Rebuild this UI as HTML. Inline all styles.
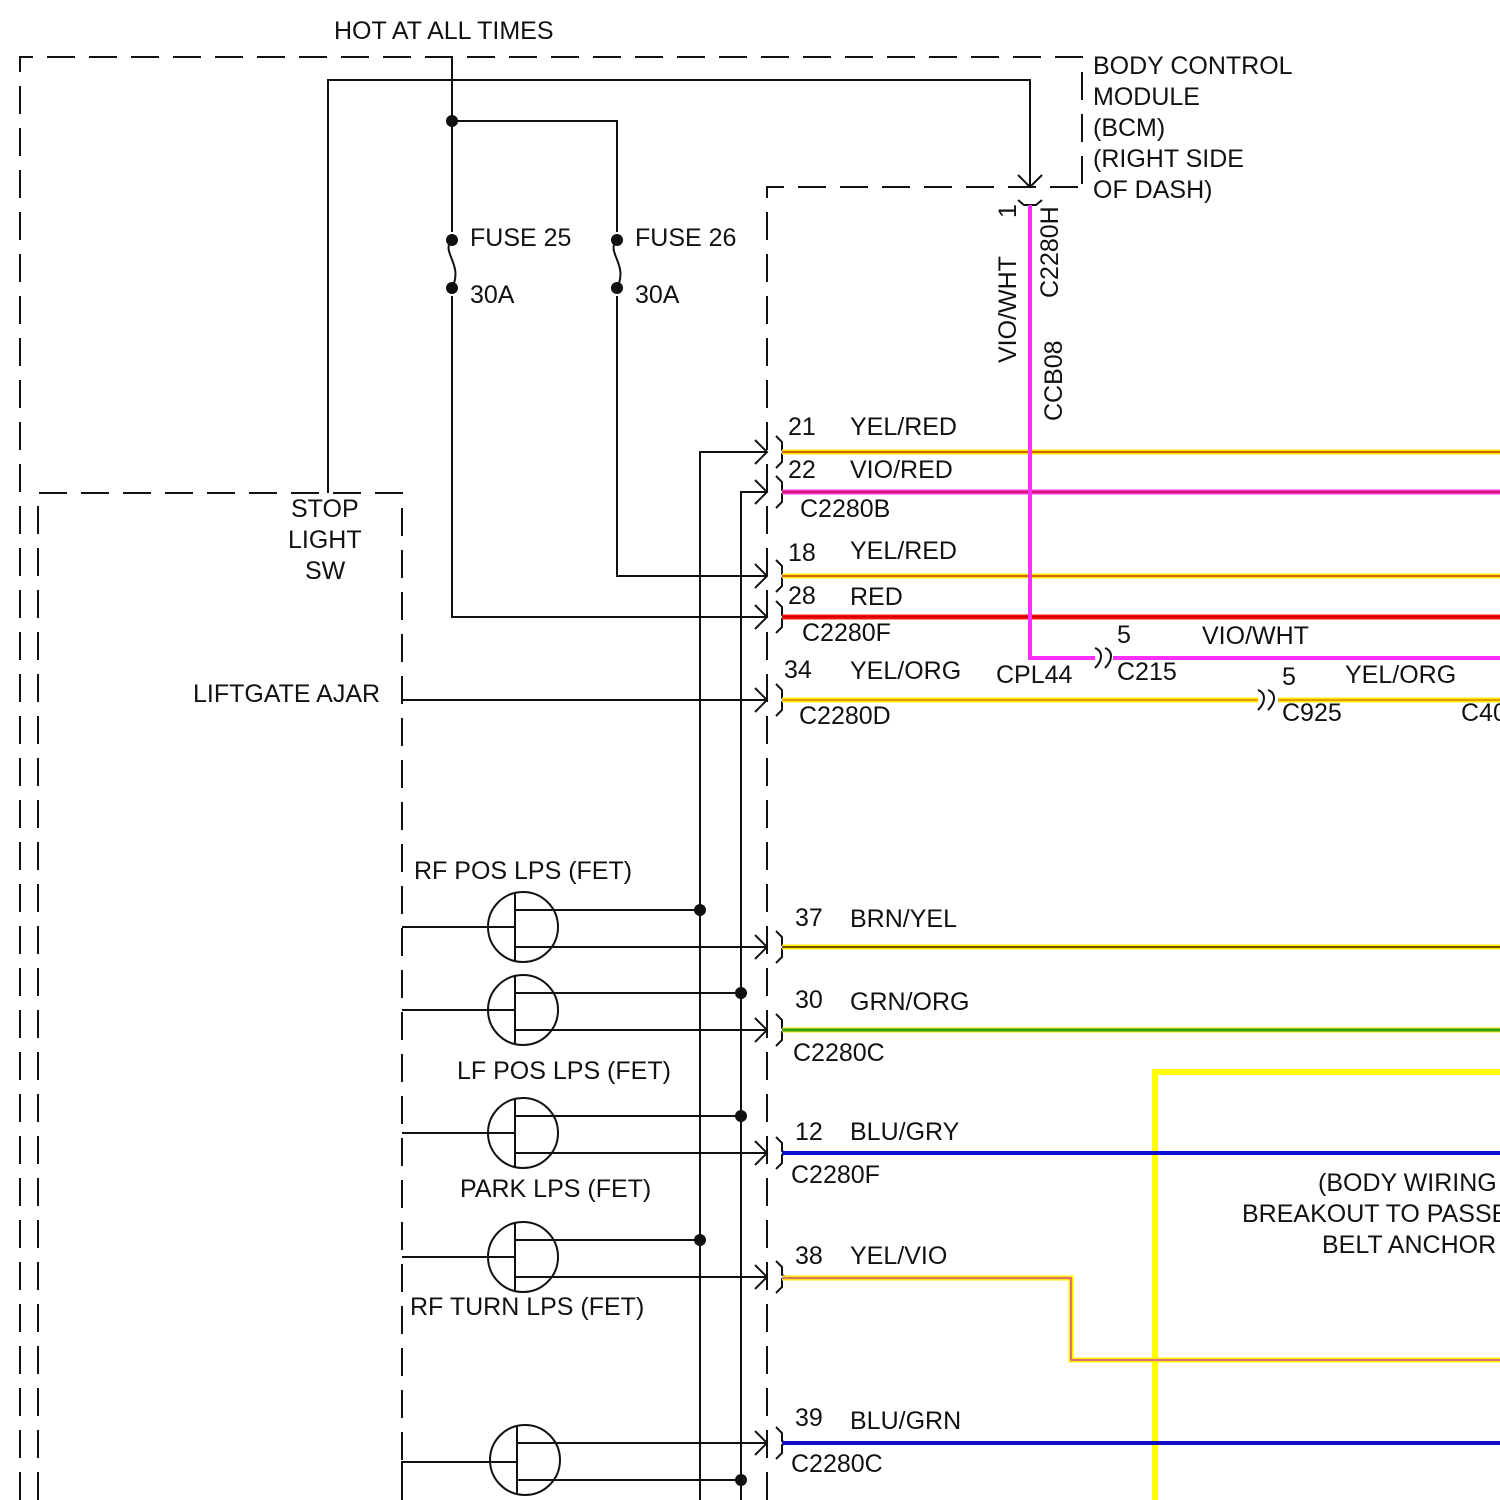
<!DOCTYPE html>
<html><head><style>body{margin:0;background:#fff}svg{display:block}text{font-family:"Liberation Sans",sans-serif;font-size:25px;fill:#111}</style></head><body>
<svg width="1500" height="1500" viewBox="0 0 1500 1500">
<g fill="none" stroke="#111" stroke-width="2" stroke-dasharray="28,14">
<path d="M20,1500V57H1082V187"/>
<path d="M38,1500V493H402V1500"/>
<path d="M767,1500V187H1082"/>
</g>
<g fill="none" stroke="#111" stroke-width="2">
<path d="M328,493V80H1030V187"/>
<path d="M1018,175L1030,187L1042,175"/>
<path d="M1018,200L1024,205H1036L1042,200"/>
<path d="M452,57V232M452,296V617H767"/>
<path d="M452,240c-12,12 12,24 0,48"/>
<path d="M452,121H617V232M617,296V576H767"/>
<path d="M617,240c-12,12 12,24 0,48"/>
<path d="M700,1500V452H767M741,1500V492H767"/>
<path d="M402,700H767"/>
</g>
<g fill="none" stroke="#111" stroke-width="2">
<path d="M755,440L767,452L755,464M755,480L767,492L755,504M755,564L767,576L755,588M755,605L767,617L755,629M755,688L767,700L755,712M755,935L767,947L755,959M755,1018L767,1030L755,1042M755,1141L767,1153L755,1165M755,1265L767,1277L755,1289M755,1431L767,1443L755,1455"/>
<path d="M776,436l6,6v8l4,2l-4,2v8l-6,6M776,476l6,6v8l4,2l-4,2v8l-6,6M776,560l6,6v8l4,2l-4,2v8l-6,6M776,601l6,6v8l4,2l-4,2v8l-6,6M776,684l6,6v8l4,2l-4,2v8l-6,6M776,931l6,6v8l4,2l-4,2v8l-6,6M776,1014l6,6v8l4,2l-4,2v8l-6,6M776,1137l6,6v8l4,2l-4,2v8l-6,6M776,1261l6,6v8l4,2l-4,2v8l-6,6M776,1427l6,6v8l4,2l-4,2v8l-6,6"/>
<path d="M1095,648c8,3 8,12 0,20M1105,648c8,3 8,12 0,20M1258,690c8,3 8,12 0,20M1268,690c8,3 8,12 0,20"/>
</g>
<g fill="none" stroke="#111" stroke-width="2">
<circle cx="523" cy="927" r="35"/><path d="M402,927H515M515,892V962M515,910H700M515,947H767"/>
<circle cx="523" cy="1010" r="35"/><path d="M402,1010H515M515,975V1045M515,993H741M515,1030H767"/>
<circle cx="523" cy="1133" r="35"/><path d="M402,1133H515M515,1098V1168M515,1116H741M515,1153H767"/>
<circle cx="523" cy="1257" r="35"/><path d="M402,1257H515M515,1222V1292M515,1240H700M515,1277H767"/>
<circle cx="525" cy="1460" r="35"/><path d="M402,1500V1462H517M517,1425V1495M517,1443H767M517,1480H741"/>
</g>
<g fill="#111">
<circle cx="452" cy="121" r="6"/><circle cx="452" cy="240" r="6"/><circle cx="452" cy="288" r="6"/>
<circle cx="617" cy="240" r="6"/><circle cx="617" cy="288" r="6"/>
<circle cx="700" cy="910" r="6"/><circle cx="741" cy="993" r="6"/><circle cx="741" cy="1116" r="6"/><circle cx="700" cy="1240" r="6"/><circle cx="741" cy="1480" r="6"/>
</g>
<g fill="none" stroke-width="5">
<path d="M1155,1500V1072H1500" stroke="#ffff00" stroke-width="6"/>
<path d="M782,452H1500" stroke="#ffee00"/><path d="M782,452H1500" stroke="#d03010" stroke-width="1.5"/>
<path d="M782,492H1500" stroke="#ff30d0"/><path d="M782,492H1500" stroke="#c01050" stroke-width="1.5"/>
<path d="M782,576H1500" stroke="#ffee00"/><path d="M782,576H1500" stroke="#d03010" stroke-width="1.5"/>
<path d="M782,617H1500" stroke="#ff1010"/><path d="M782,617H1500" stroke="#c00000" stroke-width="1.5"/>
<path d="M1030,205V658H1095M1113,658H1500" stroke="#ff30ff" stroke-width="4"/>
<path d="M782,700H1258M1278,700H1500" stroke="#ffee00"/><path d="M782,700H1258M1278,700H1500" stroke="#e08000" stroke-width="1.5"/>
<path d="M782,947H1500" stroke="#ffee00"/><path d="M782,947H1500" stroke="#705000" stroke-width="2"/>
<path d="M782,1030H1500" stroke="#ffee00"/><path d="M782,1030H1500" stroke="#30a020" stroke-width="3"/>
<path d="M782,1153H1500" stroke="#1010d0" stroke-width="4"/>
<path d="M782,1278H1071V1360H1500" stroke="#ffee00"/><path d="M782,1278H1071V1360H1500" stroke="#e040a0" stroke-width="1.5"/>
<path d="M782,1443H1500" stroke="#1010c0" stroke-width="4"/>
</g>
<text x="334" y="39">HOT AT ALL TIMES</text>
<text x="1093" y="74">BODY CONTROL</text><text x="1093" y="105">MODULE</text><text x="1093" y="136">(BCM)</text><text x="1093" y="167">(RIGHT SIDE</text><text x="1093" y="198">OF DASH)</text>
<text x="470" y="246">FUSE 25</text><text x="470" y="303">30A</text>
<text x="635" y="246">FUSE 26</text><text x="635" y="303">30A</text>
<text x="291" y="517">STOP</text><text x="288" y="548">LIGHT</text><text x="305" y="579">SW</text>
<text x="193" y="702">LIFTGATE AJAR</text>
<text transform="translate(1016,218) rotate(-90)">1</text>
<text transform="translate(1016,363) rotate(-90)">VIO/WHT</text>
<text transform="translate(1058,298) rotate(-90)">C2280H</text>
<text transform="translate(1062,421) rotate(-90)">CCB08</text>
<text x="788" y="435">21</text><text x="850" y="435">YEL/RED</text>
<text x="788" y="478">22</text><text x="850" y="478">VIO/RED</text>
<text x="800" y="517">C2280B</text>
<text x="788" y="561">18</text><text x="850" y="559">YEL/RED</text>
<text x="788" y="604">28</text><text x="850" y="605">RED</text>
<text x="802" y="641">C2280F</text>
<text x="1117" y="643">5</text><text x="1202" y="644">VIO/WHT</text>
<text x="1117" y="680">C215</text>
<text x="784" y="678">34</text><text x="850" y="679">YEL/ORG</text>
<text x="996" y="683">CPL44</text>
<text x="1282" y="685">5</text><text x="1345" y="683">YEL/ORG</text>
<text x="799" y="724">C2280D</text><text x="1282" y="721">C925</text><text x="1461" y="721">C40</text>
<text x="414" y="879">RF POS LPS (FET)</text>
<text x="795" y="926">37</text><text x="850" y="927">BRN/YEL</text>
<text x="795" y="1008">30</text><text x="850" y="1010">GRN/ORG</text>
<text x="793" y="1061">C2280C</text>
<text x="457" y="1079">LF POS LPS (FET)</text>
<text x="795" y="1140">12</text><text x="850" y="1140">BLU/GRY</text>
<text x="791" y="1183">C2280F</text>
<text x="1318" y="1191">(BODY WIRING</text><text x="1242" y="1222">BREAKOUT TO PASSE</text><text x="1322" y="1253">BELT ANCHOR</text>
<text x="460" y="1197">PARK LPS (FET)</text>
<text x="795" y="1264">38</text><text x="850" y="1264">YEL/VIO</text>
<text x="410" y="1315">RF TURN LPS (FET)</text>
<text x="795" y="1426">39</text><text x="850" y="1429">BLU/GRN</text>
<text x="791" y="1472">C2280C</text>
</svg>
</body></html>
